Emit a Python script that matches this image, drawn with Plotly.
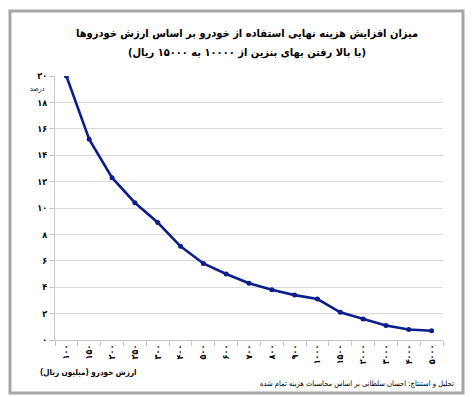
import plotly.graph_objects as go

categories = ["۱۰۰", "۱۵۰", "۲۰۰", "۲۵۰", "۳۰۰", "۴۰۰", "۵۰۰", "۶۰۰", "۷۰۰",
              "۸۰۰", "۹۰۰", "۱۰۰۰", "۱۵۰۰", "۲۰۰۰", "۳۰۰۰", "۴۰۰۰", "۵۰۰۰"]
values = [20.0, 15.2, 12.3, 10.4, 8.9, 7.1, 5.8, 5.0, 4.3, 3.8, 3.4, 3.1,
          2.1, 1.6, 1.1, 0.8, 0.7]
y_tickvals = [0, 2, 4, 6, 8, 10, 12, 14, 16, 18, 20]
y_ticktext = ["۰", "۲", "۴", "۶", "۸", "۱۰", "۱۲", "۱۴", "۱۶", "۱۸", "۲۰"]

title1 = "میزان افزایش هزینه نهایی استفاده از خودرو بر اساس ارزش خودروها"
title2 = "(با بالا رفتن بهای بنزین از ۱۰۰۰۰ به ۱۵۰۰۰ ریال)"
unit_y = "درصد"
x_label = "ارزش خودرو (میلیون ریال)"
source = "تحلیل و استنتاج: احسان سلطانی بر اساس محاسبات هزینه تمام شده"

# page body has an 8px margin; design in screenshot coordinates
OFF = 8
W, H = 476 - OFF, 397 - OFF
X0, X1, Y0, Y1 = 55, 443, 76, 340          # plot area in screenshot px
L, R, T, B = X0 - OFF, W - (X1 - OFF), Y0 - OFF, H - (Y1 - OFF)
PW, PH = X1 - X0, Y1 - Y0


def px(x):
    return (x - X0) / PW


def py(y):
    return (Y1 - y) / PH


FONT = "DejaVu Sans Condensed, DejaVu Sans"

fig = go.Figure()
fig.add_trace(go.Scatter(
    x=categories, y=values, mode="lines+markers",
    line=dict(color="#0c1e8c", width=2.6),
    marker=dict(color="#0c1e8c", size=5),
    hoverinfo="skip", showlegend=False,
))

fig.update_layout(
    width=W, height=H,
    margin=dict(l=L, r=R, t=T, b=B),
    paper_bgcolor="white", plot_bgcolor="white",
    font=dict(family=FONT, color="black"),
    xaxis=dict(
        type="category", range=[-0.5, len(categories) - 0.5],
        showgrid=False, showline=True, linecolor="#c8c8c8", linewidth=1,
        ticks="outside", tickson="boundaries", ticklen=5, tickcolor="#c8c8c8",
        tickangle=-90,
        tickfont=dict(size=9, family=FONT, color="black", weight="bold"),
        fixedrange=True,
    ),
    yaxis=dict(
        range=[0, 20], tickvals=y_tickvals, ticktext=y_ticktext,
        showgrid=True, gridcolor="#d9d9d9", gridwidth=1,
        showline=True, linecolor="#c8c8c8", linewidth=1,
        ticks="outside", ticklen=5, tickcolor="#c8c8c8",
        tickfont=dict(size=9, family=FONT, color="black", weight="bold"),
        zeroline=False, fixedrange=True,
    ),
    shapes=[
        dict(type="rect", xref="paper", yref="paper",
             x0=px(10), x1=px(463), y0=py(393), y1=py(11),
             line=dict(color="#a6a6a6", width=3), fillcolor="rgba(0,0,0,0)",
             layer="above"),
    ],
    annotations=[
        dict(text="<b>" + title1 + "</b>", xref="paper", yref="paper",
             x=px(247), y=py(33), xanchor="center", yanchor="middle",
             showarrow=False,
             font=dict(size=11, family=FONT, color="black")),
        dict(text="<b>" + title2 + "</b>", xref="paper", yref="paper",
             x=px(247), y=py(52), xanchor="center", yanchor="middle",
             showarrow=False,
             font=dict(size=11, family=FONT, color="black")),
        dict(text=unit_y, xref="paper", yref="paper",
             x=px(37), y=py(89), xanchor="center", yanchor="middle",
             showarrow=False,
             font=dict(size=7, family=FONT, color="black")),
        dict(text="<b>" + x_label + "</b>", xref="paper", yref="paper",
             x=px(88), y=py(373), xanchor="center", yanchor="middle",
             showarrow=False,
             font=dict(size=8, family=FONT, color="black")),
        dict(text=source, xref="paper", yref="paper",
             x=px(456), y=py(383), xanchor="right", yanchor="middle",
             showarrow=False,
             font=dict(size=7.5, family=FONT, color="black")),
    ],
)

fig.write_html("out.html")
